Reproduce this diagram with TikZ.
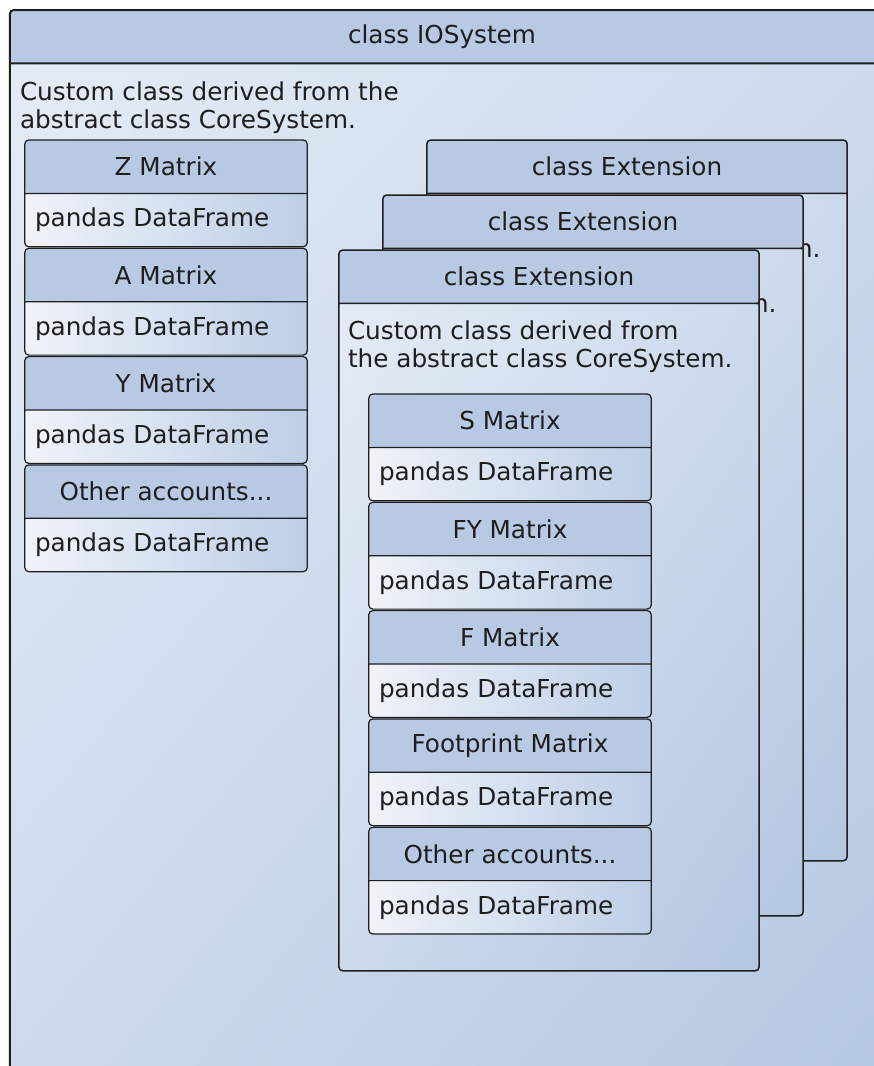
\documentclass[tikz,border=0pt]{standalone}
\usepackage{fontspec}
\setmainfont{DejaVu Sans}
\usetikzlibrary{positioning,shadings}
\definecolor{hdrblue}{HTML}{B7C9E3}
\definecolor{paleblue}{HTML}{E4EBF5}
\definecolor{midblue}{HTML}{CDDAEC}
\definecolor{deepblue}{HTML}{B4C7E2}
\definecolor{dfleft}{HTML}{F0F3F9}
\definecolor{dfright}{HTML}{BDCEE6}
\definecolor{inkgray}{HTML}{1E1E1E}

\begin{document}
\begin{tikzpicture}[x=1pt, y=-1pt,
    every node/.style={font=\fontsize{24.7}{28}\selectfont, text=inkgray},
    hdr/.style={rectangle, fill=hdrblue, rounded corners=4pt, minimum width=282pt, minimum height=53pt, anchor=north},
    df/.style={rectangle, left color=dfleft, right color=dfright, rounded corners=4pt, minimum height=53pt, text width=262pt, inner xsep=10pt, align=left, anchor=north},
    panel/.style={rectangle, upper left=paleblue, upper right=midblue, lower left=midblue, lower right=deepblue, rounded corners=4pt, anchor=north},
    note/.style={align=left, inner sep=0pt},
    frame/.style={draw=inkgray, line width=1.2pt, rounded corners=4pt}
]
    \useasboundingbox (0,0) rectangle (874,1066);
    \clip (0,0) rectangle (874,1066);

    % class IOSystem
    \node[hdr, minimum width=884pt] (sys) at (452,10) {class IOSystem\hspace*{20pt}};
    \node[panel, minimum width=884pt, minimum height=1030pt] (sysbody) at (sys.south) {};
    \node[note, below right=18pt and 10pt of sys.south west] (sysnote) {Custom class derived from the\\abstract class CoreSystem.};
    \draw[frame, line width=2pt] (sys.north west) rectangle (sysbody.south east) (sys.south west) -- (sys.south east);

    \node[hdr] (zm) at (166,140) {Z Matrix};
    \node[df] (zmdf) at (zm.south) {pandas DataFrame};
    \draw[frame] (zm.north west) rectangle (zmdf.south east) (zm.south west) -- (zm.south east);
    \node[hdr] (am) at ([yshift=-1.5pt]zmdf.south) {A Matrix};
    \node[df] (amdf) at (am.south) {pandas DataFrame};
    \draw[frame] (am.north west) rectangle (amdf.south east) (am.south west) -- (am.south east);
    \node[hdr] (ym) at ([yshift=-1.5pt]amdf.south) {Y Matrix};
    \node[df] (ymdf) at (ym.south) {pandas DataFrame};
    \draw[frame] (ym.north west) rectangle (ymdf.south east) (ym.south west) -- (ym.south east);
    \node[hdr] (oth) at ([yshift=-1.5pt]ymdf.south) {Other accounts...};
    \node[df] (othdf) at (oth.south) {pandas DataFrame};
    \draw[frame] (oth.north west) rectangle (othdf.south east) (oth.south west) -- (oth.south east);

    % class Extension, back to front
    \node[hdr, minimum width=420pt] (extc) at (637,140) {class Extension\hspace*{20pt}};
    \node[panel, minimum width=420pt, minimum height=667pt] (extcbody) at (extc.south) {};
    \node[note, below right=17pt and 9pt of extc.south west] (extcnote) {Custom class derived from\\the abstract class CoreSystem.};
    \draw[frame, line width=1.5pt] (extc.north west) rectangle (extcbody.south east) (extc.south west) -- (extc.south east);

    \node[hdr, minimum width=420pt] (extb) at (593,195) {class Extension\hspace*{20pt}};
    \node[panel, minimum width=420pt, minimum height=667pt] (extbbody) at (extb.south) {};
    \node[note, below right=17pt and 9pt of extb.south west] (extbnote) {Custom class derived from\\the abstract class CoreSystem.};
    \draw[frame, line width=1.5pt] (extb.north west) rectangle (extbbody.south east) (extb.south west) -- (extb.south east);

    \node[hdr, minimum width=420pt] (exta) at (549,250) {class Extension\hspace*{20pt}};
    \node[panel, minimum width=420pt, minimum height=667pt] (extabody) at (exta.south) {};
    \node[note, below right=17pt and 9pt of exta.south west] (extanote) {Custom class derived from\\the abstract class CoreSystem.};
    \draw[frame, line width=1.5pt] (exta.north west) rectangle (extabody.south east) (exta.south west) -- (exta.south east);

    \node[hdr] (sm) at (510,394) {S Matrix};
    \node[df] (smdf) at (sm.south) {pandas DataFrame};
    \draw[frame] (sm.north west) rectangle (smdf.south east) (sm.south west) -- (sm.south east);
    \node[hdr] (fym) at ([yshift=-1.5pt]smdf.south) {FY Matrix};
    \node[df] (fymdf) at (fym.south) {pandas DataFrame};
    \draw[frame] (fym.north west) rectangle (fymdf.south east) (fym.south west) -- (fym.south east);
    \node[hdr] (fm) at ([yshift=-1.5pt]fymdf.south) {F Matrix};
    \node[df] (fmdf) at (fm.south) {pandas DataFrame};
    \draw[frame] (fm.north west) rectangle (fmdf.south east) (fm.south west) -- (fm.south east);
    \node[hdr] (fpm) at ([yshift=-1.5pt]fmdf.south) {Footprint Matrix};
    \node[df] (fpmdf) at (fpm.south) {pandas DataFrame};
    \draw[frame] (fpm.north west) rectangle (fpmdf.south east) (fpm.south west) -- (fpm.south east);
    \node[hdr] (extoth) at ([yshift=-1.5pt]fpmdf.south) {Other accounts...};
    \node[df] (extothdf) at (extoth.south) {pandas DataFrame};
    \draw[frame] (extoth.north west) rectangle (extothdf.south east) (extoth.south west) -- (extoth.south east);
\end{tikzpicture}
\end{document}
